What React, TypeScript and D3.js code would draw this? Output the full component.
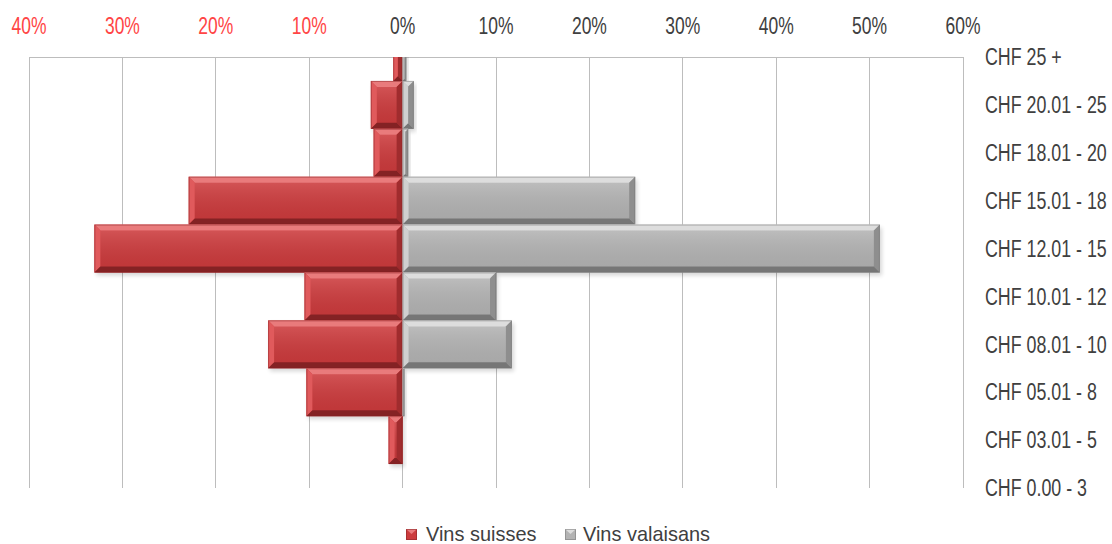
import React from "react";
import * as d3 from "d3";

const categories = [
  "CHF 25 +",
  "CHF 20.01 - 25",
  "CHF 18.01 - 20",
  "CHF 15.01 - 18",
  "CHF 12.01 - 15",
  "CHF 10.01 - 12",
  "CHF 08.01 - 10",
  "CHF 05.01 - 8",
  "CHF 03.01 - 5",
  "CHF 0.00 - 3",
];
// percentages (Vins suisses plotted to the left)
const vinsSuisses = [1.0, 3.4, 3.1, 22.9, 33.0, 10.5, 14.4, 10.3, 1.5, 0];
const vinsValaisans = [0.4, 1.2, 0.6, 24.9, 51.1, 10.0, 11.7, 0.2, 0, 0];
const tickValues = [-40, -30, -20, -10, 0, 10, 20, 30, 40, 50, 60];
const seriesNames = ["Vins suisses", "Vins valaisans"];

const W = 1112;
const H = 544;
const left = 29;
const right = 963;
const top = 57;
const bottom = 488;

const FONT = "'Liberation Sans', Arial, sans-serif";

const x = d3.scaleLinear().domain([-40, 60]).range([left, right]);
const y = d3.scalePoint<string>().domain(categories).range([top, bottom]);
const step = y.step();

const palettes = {
  red: { body: "#cc3b3d", light: "#e05a5c", lighter: "#e97b7c", dark: "#a02c2e", darker: "#842224" },
  gray: { body: "#b3b3b3", light: "#d0d0d0", lighter: "#dddddd", dark: "#8e8e8e", darker: "#767676" },
};

function Bevel({ x0, x1, yc, h, pal }: { x0: number; x1: number; yc: number; h: number; pal: any }) {
  const w = x1 - x0;
  if (w <= 0) return null;
  const y0 = yc - h / 2;
  const y1 = yc + h / 2;
  const b = Math.min(6, w / 2, h / 2);
  const pts = (arr: number[][]) => arr.map((p) => p.join(",")).join(" ");
  return (
    <g>
      <rect x={x0 + 2} y={y0 + 3} width={w} height={h} fill="#000" opacity={0.16} filter="url(#blur)" />
      <rect x={x0} y={y0} width={w} height={h} fill={pal.body} />
      <polygon points={pts([[x0, y0], [x1, y0], [x1 - b, y0 + b], [x0 + b, y0 + b]])} fill={pal.lighter} />
      <polygon points={pts([[x0, y0], [x0 + b, y0 + b], [x0 + b, y1 - b], [x0, y1]])} fill={pal.light} />
      <polygon points={pts([[x1, y0], [x1, y1], [x1 - b, y1 - b], [x1 - b, y0 + b]])} fill={pal.dark} />
      <polygon points={pts([[x0, y1], [x0 + b, y1 - b], [x1 - b, y1 - b], [x1, y1]])} fill={pal.darker} />
      <rect x={x0 + b} y={y0 + b} width={Math.max(0, w - 2 * b)} height={Math.max(0, h - 2 * b)} fill="url(#bodyGrad)" opacity={0.2} />
      <rect x={x0 + 0.5} y={y0 + 0.5} width={Math.max(0, w - 1)} height={h - 1} fill="none" stroke={pal.darker} strokeOpacity={0.45} strokeWidth={1} />
    </g>
  );
}

export default function App() {
  return (
    <svg width={W} height={H} style={{ position: "absolute", left: 0, top: 0, background: "#fff" }} fontFamily={FONT}>
      <defs>
        <clipPath id="plotClip">
          <rect x={left - 5} y={top} width={right - left + 10} height={bottom - top} />
        </clipPath>
        <filter id="blur" x="-10%" y="-30%" width="120%" height="160%">
          <feGaussianBlur stdDeviation={2} />
        </filter>
        <linearGradient id="bodyGrad" x1="0" y1="0" x2="0" y2="1">
          <stop offset="0" stopColor="#fff" stopOpacity={0.6} />
          <stop offset="1" stopColor="#000" stopOpacity={0.3} />
        </linearGradient>
      </defs>

      {/* gridlines */}
      {tickValues.map((t) => (
        <line key={t} x1={x(t)} x2={x(t)} y1={top} y2={bottom} stroke="#bdbdbd" strokeWidth={1} shapeRendering="crispEdges" />
      ))}
      <line x1={left} x2={right} y1={top} y2={top} stroke="#bdbdbd" shapeRendering="crispEdges" />

      <g clipPath="url(#plotClip)">
        {categories.map((c, i) => (
          <g key={c}>
            <Bevel x0={x(-vinsSuisses[i])} x1={x(0)} yc={y(c)!} h={step} pal={palettes.red} />
            <Bevel x0={x(0)} x1={x(vinsValaisans[i])} yc={y(c)!} h={step} pal={palettes.gray} />
          </g>
        ))}
      </g>

      {/* tick labels */}
      {tickValues.map((t) => (
        <text
          key={t}
          transform={`translate(${x(t)},34) scale(0.76,1)`}
          textAnchor="middle"
          fontSize={23}
          fill={t < 0 ? "#ff4545" : "#404040"}
        >
          {Math.abs(t)}%
        </text>
      ))}

      {/* category labels */}
      {categories.map((c) => (
        <text key={c} transform={`translate(985,${y(c)! + 8.2}) scale(0.775,1)`} fontSize={23} fill="#404040">
          {c}
        </text>
      ))}

      {/* legend */}
      <g>
        {[
          { name: seriesNames[0], pal: palettes.red, x0: 406, tx: 426 },
          { name: seriesNames[1], pal: palettes.gray, x0: 565, tx: 583 },
        ].map((d) => (
          <g key={d.name}>
            <rect x={d.x0} y={529} width={11} height={11} fill={d.pal.body} />
            <polygon points={`${d.x0},529 ${d.x0 + 11},529 ${d.x0 + 5.5},534`} fill={d.pal.lighter} />
            <rect x={d.x0 + 0.5} y={529.5} width={10} height={10} fill="none" stroke={d.pal.darker} strokeOpacity={0.5} />
            <text transform={`translate(${d.tx},541) scale(0.95,1)`} fontSize={21} fill="#404040">
              {d.name}
            </text>
          </g>
        ))}
      </g>
    </svg>
  );
}
